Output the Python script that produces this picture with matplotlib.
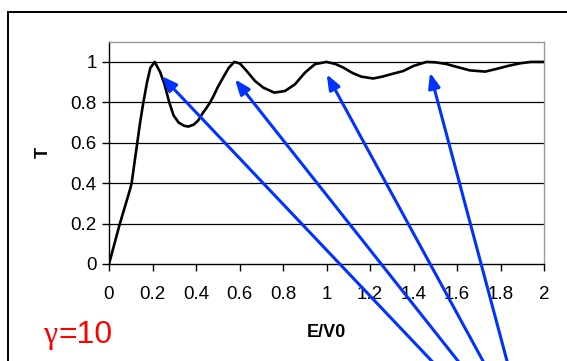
import matplotlib
matplotlib.use("Agg")
import matplotlib.pyplot as plt
from matplotlib.lines import Line2D

plt.rcParams['font.family'] = ['Liberation Sans', 'DejaVu Sans']

# Transmission curve T(E/V0)
e_v0 = [0.0, 0.025, 0.05, 0.075, 0.097, 0.104, 0.117, 0.13, 0.143, 0.158, 0.175, 0.19, 0.21,
        0.235, 0.255, 0.277, 0.297, 0.32, 0.345, 0.365, 0.39, 0.41, 0.43, 0.45, 0.465, 0.48,
        0.50, 0.526, 0.55, 0.576, 0.602, 0.633, 0.671, 0.709, 0.76, 0.809, 0.855, 0.901,
        0.947, 1.0, 1.04, 1.077, 1.12, 1.16, 1.215, 1.26, 1.30, 1.353, 1.40, 1.46,
        1.50, 1.55, 1.60, 1.66, 1.73, 1.78, 1.834, 1.89, 1.94, 2.0]
T = [0.0, 0.10, 0.20, 0.29, 0.37, 0.40, 0.50, 0.60, 0.70, 0.80, 0.90, 0.97, 1.0,
     0.95, 0.89, 0.80, 0.735, 0.70, 0.684, 0.68, 0.69, 0.71, 0.745, 0.775, 0.80, 0.83,
     0.875, 0.925, 0.97, 1.0, 0.992, 0.955, 0.906, 0.873, 0.848, 0.856, 0.889, 0.947,
     0.989, 1.0, 0.99, 0.972, 0.945, 0.927, 0.918, 0.928, 0.94, 0.955, 0.98, 1.0,
     0.998, 0.99, 0.975, 0.958, 0.952, 0.965, 0.98, 0.993, 1.0, 1.0]

x_ticks = [0, 0.2, 0.4, 0.6, 0.8, 1.0, 1.2, 1.4, 1.6, 1.8, 2.0]
x_tick_labels = ['0', '0.2', '0.4', '0.6', '0.8', '1', '1.2', '1.4', '1.6', '1.8', '2']
y_ticks = [0, 0.2, 0.4, 0.6, 0.8, 1.0]
y_tick_labels = ['0', '0.2', '0.4', '0.6', '0.8', '1']

# arrow tips (data coords, just below resonance peaks)
arrow_tip_x = [0.242, 0.579, 1.001, 1.476]
arrow_tip_y = [0.93, 0.914, 0.939, 0.947]

W, H = 567, 361
fig = plt.figure(figsize=(W / 100, H / 100), dpi=100)
fig.patch.set_facecolor('white')

# outer frame (extends beyond the picture on right and bottom)
fig.add_artist(Line2D([7.8 / W, 7.8 / W], [-0.05, (H - 12) / H], transform=fig.transFigure,
                      color='black', lw=1.4, solid_capstyle='projecting'))
fig.add_artist(Line2D([7.8 / W, 1.05], [(H - 12) / H, (H - 12) / H], transform=fig.transFigure,
                      color='black', lw=1.4, solid_capstyle='projecting'))

ax = fig.add_axes([109 / W, 97 / H, 435 / W, 222.3 / H])
ax.set_xlim(0, 2)
ax.set_ylim(0, 1.1)

for yv in y_ticks[1:]:
    ax.axhline(yv, color='black', lw=0.9, zorder=1)

ax.plot(e_v0, T, color='black', lw=1.9, zorder=3, solid_joinstyle='round')

ax.spines['top'].set_color('#999999')
ax.spines['right'].set_color('#999999')
ax.spines['left'].set_color('black')
ax.spines['bottom'].set_color('black')
for s in ax.spines.values():
    s.set_linewidth(1.0)

ax.set_xticks(x_ticks)
ax.set_xticklabels(x_tick_labels)
ax.set_yticks(y_ticks)
ax.set_yticklabels(y_tick_labels)
ax.tick_params(axis='x', direction='out', length=5, width=1, pad=11, labelsize=13.5)
ax.tick_params(axis='y', direction='out', length=5, width=1, pad=4, labelsize=13.5)

ax.set_xlabel('E/V0', fontsize=13, fontweight='bold', labelpad=15)
ax.set_ylabel('T', fontsize=13, fontweight='bold', labelpad=13)

# red gamma label
fig.text(43 / W, (H - 343) / H, 'γ', color='red', fontsize=23, family='Liberation Serif',
         ha='left', va='baseline')
fig.text(59 / W, (H - 343) / H, '=10', color='red', fontsize=23, family='Liberation Sans',
         ha='left', va='baseline')

# blue arrows rising from below the picture to the peaks
arrow_slopes = [0.951, 0.794, 0.546, 0.268]
arrow_base_x = [431.7, 458.0, 483.0, 507.0]
for tx, ty, bx, sl in zip(arrow_tip_x, arrow_tip_y, arrow_base_x, arrow_slopes):
    ax.annotate('', xy=(tx, ty), xycoords='data',
                xytext=(bx + sl * 15, -15), textcoords='figure pixels',
                arrowprops=dict(arrowstyle='-|>,head_length=0.9,head_width=0.35',
                                color='#0033FF', lw=2.2, shrinkA=0, shrinkB=0),
                annotation_clip=False, zorder=10)

fig.savefig('out.png', dpi=100, facecolor='white')
